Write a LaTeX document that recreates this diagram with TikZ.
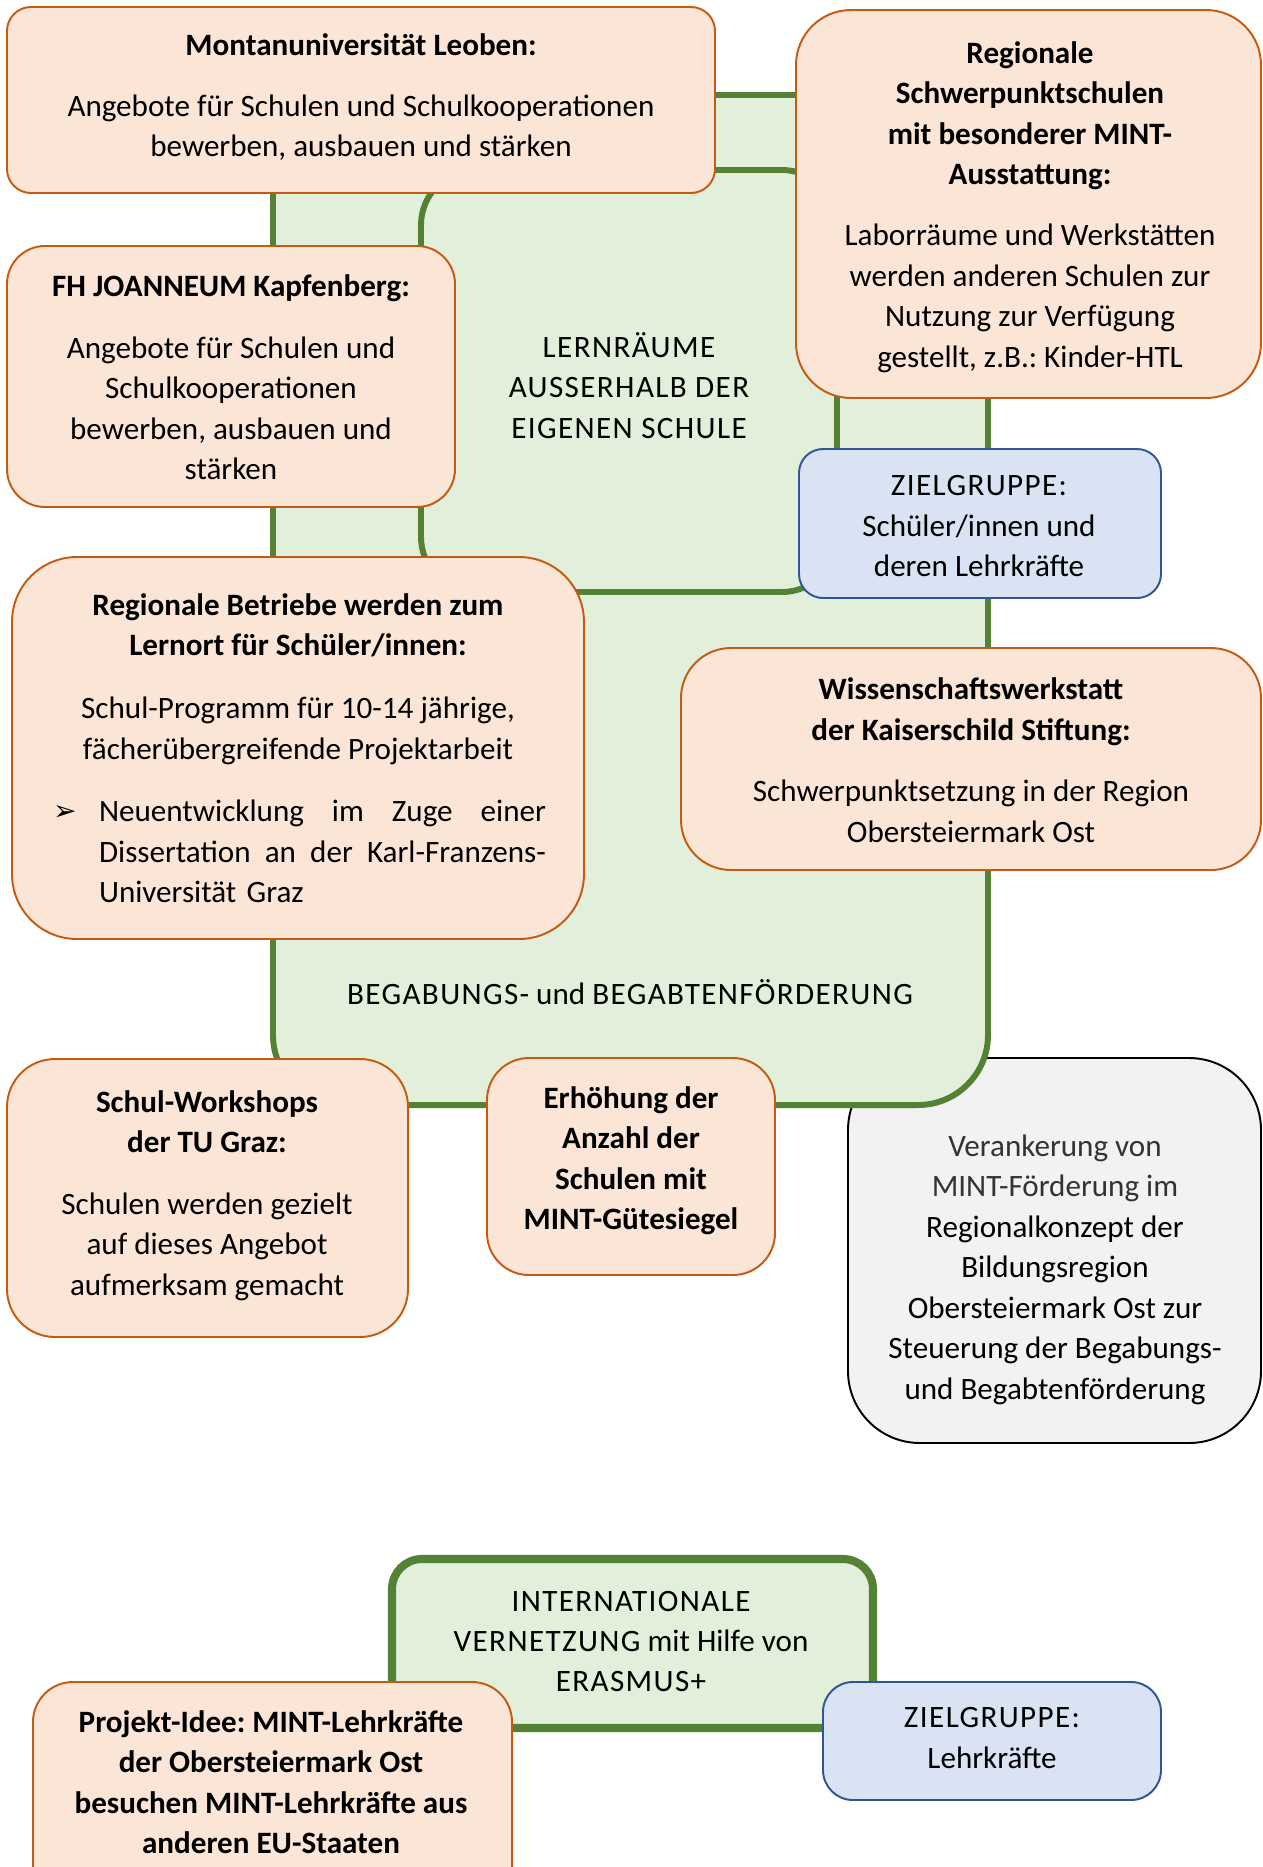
\documentclass[tikz,border=0pt]{standalone}
\usepackage{fontspec}
\setmainfont{Carlito}
\newfontfamily\symfont{DejaVu Sans}
\usetikzlibrary{fit}
\definecolor{peachfill}{HTML}{FBE5D6}
\definecolor{peachline}{HTML}{C55A11}
\definecolor{greenfill}{HTML}{E2EFDA}
\definecolor{greenline}{HTML}{548235}
\definecolor{bluefill}{HTML}{DAE3F3}
\definecolor{blueline}{HTML}{2F5597}
\definecolor{grayfill}{HTML}{F2F2F2}
\definecolor{lighttext}{HTML}{333333}
\newcommand\capsls[1]{{\addfontfeature{LetterSpace=4.5}#1}}
\frenchspacing
\begin{document}
\begin{tikzpicture}[x=0.02cm, y=-0.02cm,
  every node/.style={inner sep=0pt, outer sep=0pt},
  txt/.style={align=center, font=\fontsize{17.7}{23.05}\selectfont\frenchspacing},
  pbox/.style={draw=peachline, fill=peachfill, line width=1.1pt},
  gbox/.style={draw=greenline, fill=greenfill, line width=3.4pt},
  bbox/.style={draw=blueline, fill=bluefill, line width=1.1pt},
  kbox/.style={draw=black, fill=grayfill, line width=1.1pt}]
\useasboundingbox (0,0) rectangle (1263,1867);
\clip (0,0) rectangle (1263,1867);
\fill[white] (0,0) rectangle (1263,1867);

% grey box (below the green frame)
\node[kbox, rounded corners=1.44cm, fit={(848,1058) (1261,1443)}] (veran) {};
\node[txt] (veranT) at (1055,1269.5) {\color{lighttext}Verankerung von\\\color{lighttext}MINT-Förderung im\\Regionalkonzept der\\Bildungsregion\\Obersteiermark Ost zur\\Steuerung der Begabungs-\\und Begabtenförderung};

% green frames
\node[gbox, rounded corners=1.4cm, fit={(273,95) (988,1105)}] (begab) {};
\node[gbox, rounded corners=1.1cm, fit={(421,170) (837,592)}] (lern) {};
\node[txt] (begabT) at (630,992) {\capsls{BEGABUNGS-} und \capsls{BEGABTENFÖRDERUNG}};
\node[txt] (lernT) at (629,385.5) {\capsls{LERNRÄUME}\\\capsls{AUSSERHALB DER}\\\capsls{EIGENEN SCHULE}};

% Montanuniversitaet
\node[pbox, rounded corners=0.48cm, fit={(7,7) (715,193)}] (mont) {};
\node[txt] (montT) at (361,97) {\textbf{Montanuniversität Leoben:}\\[11.7pt]Angebote für Schulen und Schulkooperationen\\bewerben, ausbauen und stärken};

% Regionale Schwerpunktschulen
\node[pbox, rounded corners=1.1cm, fit={(796,10) (1261,398)}] (schwer) {};
\node[txt] (schwerT) at (1030,207) {\textbf{Regionale}\\\textbf{Schwerpunktschulen}\\\textbf{mit besonderer MINT-}\\\textbf{Ausstattung:}\\[11.4pt]Laborräume und Werkstätten\\werden anderen Schulen zur\\Nutzung zur Verfügung\\gestellt, z.B.: Kinder-HTL};

% FH Joanneum
\node[pbox, rounded corners=0.76cm, fit={(7,246) (455,507)}] (fh) {};
\node[txt] (fhT) at (231,377.5) {\textbf{FH JOANNEUM Kapfenberg:}\\[12pt]Angebote für Schulen und\\Schulkooperationen\\bewerben, ausbauen und\\stärken};

% Zielgruppe 1
\node[bbox, rounded corners=0.48cm, fit={(799,449) (1161,598)}] (ziel) {};
\node[txt] (zielT) at (979,526.5) {\capsls{ZIELGRUPPE:}\\Schüler/innen und\\deren Lehrkräfte};

% Regionale Betriebe
\node[pbox, rounded corners=1.3cm, fit={(12,557) (584,939)}] (betr) {};
\node[txt] (betrT) at (298,679) {\textbf{Regionale Betriebe werden zum}\\\textbf{Lernort für Schüler/innen:}\\[12.8pt]Schul-Programm für 10-14 jährige,\\fächerübergreifende Projektarbeit};
\node[txt, align=left, text width=9.86cm] (betrB) at (299.5,851.5) {\makebox[0.92cm][l]{\raisebox{0.5pt}{\fontsize{16}{16}\symfont ➢}}\makebox[8.94cm]{Neuentwicklung\hfill im\hfill Zuge\hfill einer}\\\hspace*{0.92cm}\makebox[8.94cm]{Dissertation\hfill an\hfill der\hfill Karl-Franzens-}\\\hspace*{0.92cm}Universität Graz};

% Wissenschaftswerkstatt
\node[pbox, rounded corners=1.0cm, fit={(681,648) (1261,870)}] (wiss) {};
\node[txt] (wissT) at (971,760) {\textbf{Wissenschaftswerkstatt}\\\textbf{der Kaiserschild Stiftung:}\\[12pt]Schwerpunktsetzung in der Region\\Obersteiermark Ost};

% Schul-Workshops
\node[pbox, rounded corners=0.96cm, fit={(7,1059) (408,1337)}] (tug) {};
\node[txt] (tugT) at (207,1195.5) {\textbf{Schul-Workshops}\\\textbf{der TU Graz:}\\[12pt]Schulen werden gezielt\\auf dieses Angebot\\aufmerksam gemacht};

% Erhoehung
\node[pbox, rounded corners=0.84cm, fit={(487,1058) (775,1275)}] (erh) {};
\node[txt] (erhT) at (631,1160.5) {\textbf{Erhöhung der}\\\textbf{Anzahl der}\\\textbf{Schulen mit}\\\textbf{MINT-Gütesiegel}};

% International
\node[gbox, line width=4.6pt, rounded corners=0.6cm, fit={(392,1559) (873,1728)}] (intl) {};
\node[txt] (intlT) at (631,1641.5) {\capsls{INTERNATIONALE}\\\capsls{VERNETZUNG} mit Hilfe von\\\capsls{ERASMUS+}};

% Projekt-Idee
\node[pbox, rounded corners=0.8cm, fit={(33,1682) (512,1910)}] (proj) {};
\node[txt] (projT) at (271,1782) {\textbf{Projekt-Idee: MINT-Lehrkräfte}\\\textbf{der Obersteiermark Ost}\\\textbf{besuchen MINT-Lehrkräfte aus}\\\textbf{anderen EU-Staaten}};

% Zielgruppe 2
\node[bbox, rounded corners=0.6cm, fit={(823,1682) (1161,1800)}] (ziel2) {};
\node[txt] (ziel2T) at (992,1738) {\capsls{ZIELGRUPPE:}\\Lehrkräfte};
\end{tikzpicture}
\end{document}
